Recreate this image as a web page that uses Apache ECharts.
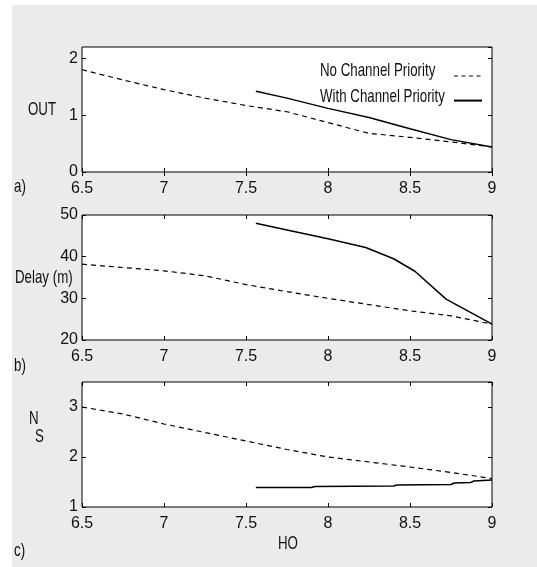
<!DOCTYPE html>
<html>
<head>
<meta charset="utf-8">
<script src="https://cdn.jsdelivr.net/npm/echarts@6/dist/echarts.min.js"></script>
<style>
html, body { margin: 0; padding: 0; background: #fff; }
#wrap { position: relative; width: 537px; height: 567px; background: #fff; }
#bg { position: absolute; left: 12px; top: 5px; right: 0; bottom: 0; background: #ebebeb; }
#chart { position: absolute; left: 0; top: 0; width: 537px; height: 567px; }
</style>
</head>
<body>
<div id="wrap"><div id="bg"></div><div id="chart"></div></div>
<script>
// HO values (x) and the three measures
const hoNoPri = [6.5, 6.75, 7, 7.25, 7.5, 7.75, 8, 8.25, 8.5, 8.75, 9];
const outNoPri = [1.8, 1.62, 1.45, 1.3, 1.17, 1.06, 0.87, 0.68, 0.61, 0.53, 0.44];
const delayNoPri = [38.2, 37.4, 36.6, 35.4, 33.3, 31.6, 30.0, 28.5, 27.0, 25.8, 23.8];
const nsNoPri = [3.0, 2.86, 2.66, 2.49, 2.32, 2.15, 2.0, 1.9, 1.8, 1.69, 1.57];

const hoPriOut = [7.56, 7.75, 8, 8.25, 8.5, 8.75, 9];
const outPri = [1.42, 1.3, 1.12, 0.96, 0.76, 0.57, 0.44];
const hoPriDelay = [7.56, 7.75, 8, 8.23, 8.4, 8.53, 8.72, 9];
const delayPri = [48, 46.4, 44.3, 42.2, 39.5, 36.5, 29.8, 23.8];
const hoPriNs = [7.56, 7.9, 7.92, 8.4, 8.42, 8.75, 8.77, 8.87, 8.89, 9];
const nsPri = [1.39, 1.39, 1.41, 1.42, 1.44, 1.45, 1.48, 1.49, 1.52, 1.54];

const seriesNames = ['No Channel Priority', 'With Channel Priority'];
const yRanges = [[0, 2.2, 1], [20, 50, 10], [1, 3.5, 1]];
const panelLabels = ['a)', 'b)', 'c)'];

const FONT = "'Liberation Sans', Arial, sans-serif";
const zip = (xs, ys) => xs.map((x, i) => [x, ys[i]]);

const gridTops = [47, 215, 382];
const grids = gridTops.map(top => ({
    left: 82, top: top, width: 410, height: 125,
    show: true, borderColor: '#000', borderWidth: 1, backgroundColor: '#fff'
}));

const tick = { show: true, inside: true, length: 4, lineStyle: { color: '#000' } };
const xAxes = [];
const yAxes = [];
gridTops.forEach((t, i) => {
    xAxes.push({
        type: 'value', gridIndex: i, min: 6.5, max: 9, interval: 0.5,
        axisLine: { show: false }, splitLine: { show: false }, axisTick: tick,
        axisLabel: { fontSize: 16, margin: 9, color: '#111', fontFamily: FONT }
    });
    xAxes.push({
        type: 'value', gridIndex: i, position: 'top', min: 6.5, max: 9, interval: 0.5,
        axisLine: { show: false }, splitLine: { show: false }, axisTick: tick,
        axisLabel: { show: false }
    });
    const r = yRanges[i];
    yAxes.push({
        type: 'value', gridIndex: i, min: r[0], max: r[1], interval: r[2],
        axisLine: { show: false }, splitLine: { show: false }, axisTick: tick,
        axisLabel: { fontSize: 16, margin: 4, color: '#111', fontFamily: FONT, showMaxLabel: i === 1 }
    });
    yAxes.push({
        type: 'value', gridIndex: i, position: 'right', min: r[0], max: r[1], interval: r[2],
        axisLine: { show: false }, splitLine: { show: false }, axisTick: tick,
        axisLabel: { show: false }
    });
});

function lineSeries(name, panel, xs, ys) {
    const dashed = name === seriesNames[0];
    return {
        name: name, type: 'line', xAxisIndex: panel * 2, yAxisIndex: panel * 2,
        data: zip(xs, ys), symbol: 'none', silent: true,
        itemStyle: { color: 'rgba(0,0,0,0)' },
        lineStyle: { color: '#000', width: dashed ? 1.2 : 1.5, type: dashed ? [5, 4] : 'solid' }
    };
}

const series = [
    lineSeries(seriesNames[0], 0, hoNoPri, outNoPri),
    lineSeries(seriesNames[1], 0, hoPriOut, outPri),
    lineSeries(seriesNames[0], 1, hoNoPri, delayNoPri),
    lineSeries(seriesNames[1], 1, hoPriDelay, delayPri),
    lineSeries(seriesNames[0], 2, hoNoPri, nsNoPri),
    lineSeries(seriesNames[1], 2, hoPriNs, nsPri)
];

// narrow text like the original figure
const txt = (text, x, y) => ({
    type: 'text', x: x, y: y, scaleX: 0.7,
    style: { text: text, fontSize: 19, fill: '#111', fontFamily: FONT, align: 'left', verticalAlign: 'middle' }
});
const labelY = [187, 366, 551];
const graphics = panelLabels.map((l, i) => txt(l, 14, labelY[i]));
graphics.push(txt('OUT', 28, 110));
graphics.push(txt('Delay (m)', 15, 278));
graphics.push(txt('N', 29, 419));
graphics.push(txt('S', 35, 437));
graphics.push(txt('HO', 278, 544));
graphics.push(txt(seriesNames[0], 320, 71));
graphics.push(txt(seriesNames[1], 320, 97));

const chart = echarts.init(document.getElementById('chart'));
chart.setOption({
    backgroundColor: 'transparent',
    animation: false,
    grid: grids,
    xAxis: xAxes,
    yAxis: yAxes,
    legend: {
        data: [
            { name: seriesNames[0], lineStyle: { type: [4, 3.5], width: 1.2 } },
            { name: seriesNames[1] }
        ],
        orient: 'vertical', align: 'left',
        left: 448, top: 64, itemWidth: 28, itemHeight: 14, itemGap: 12,
        selectedMode: false,
        itemStyle: { opacity: 0, borderWidth: 0 },
        formatter: () => '',
        textStyle: { fontSize: 1 }
    },
    series: series,
    graphic: graphics
});
</script>
</body>
</html>
